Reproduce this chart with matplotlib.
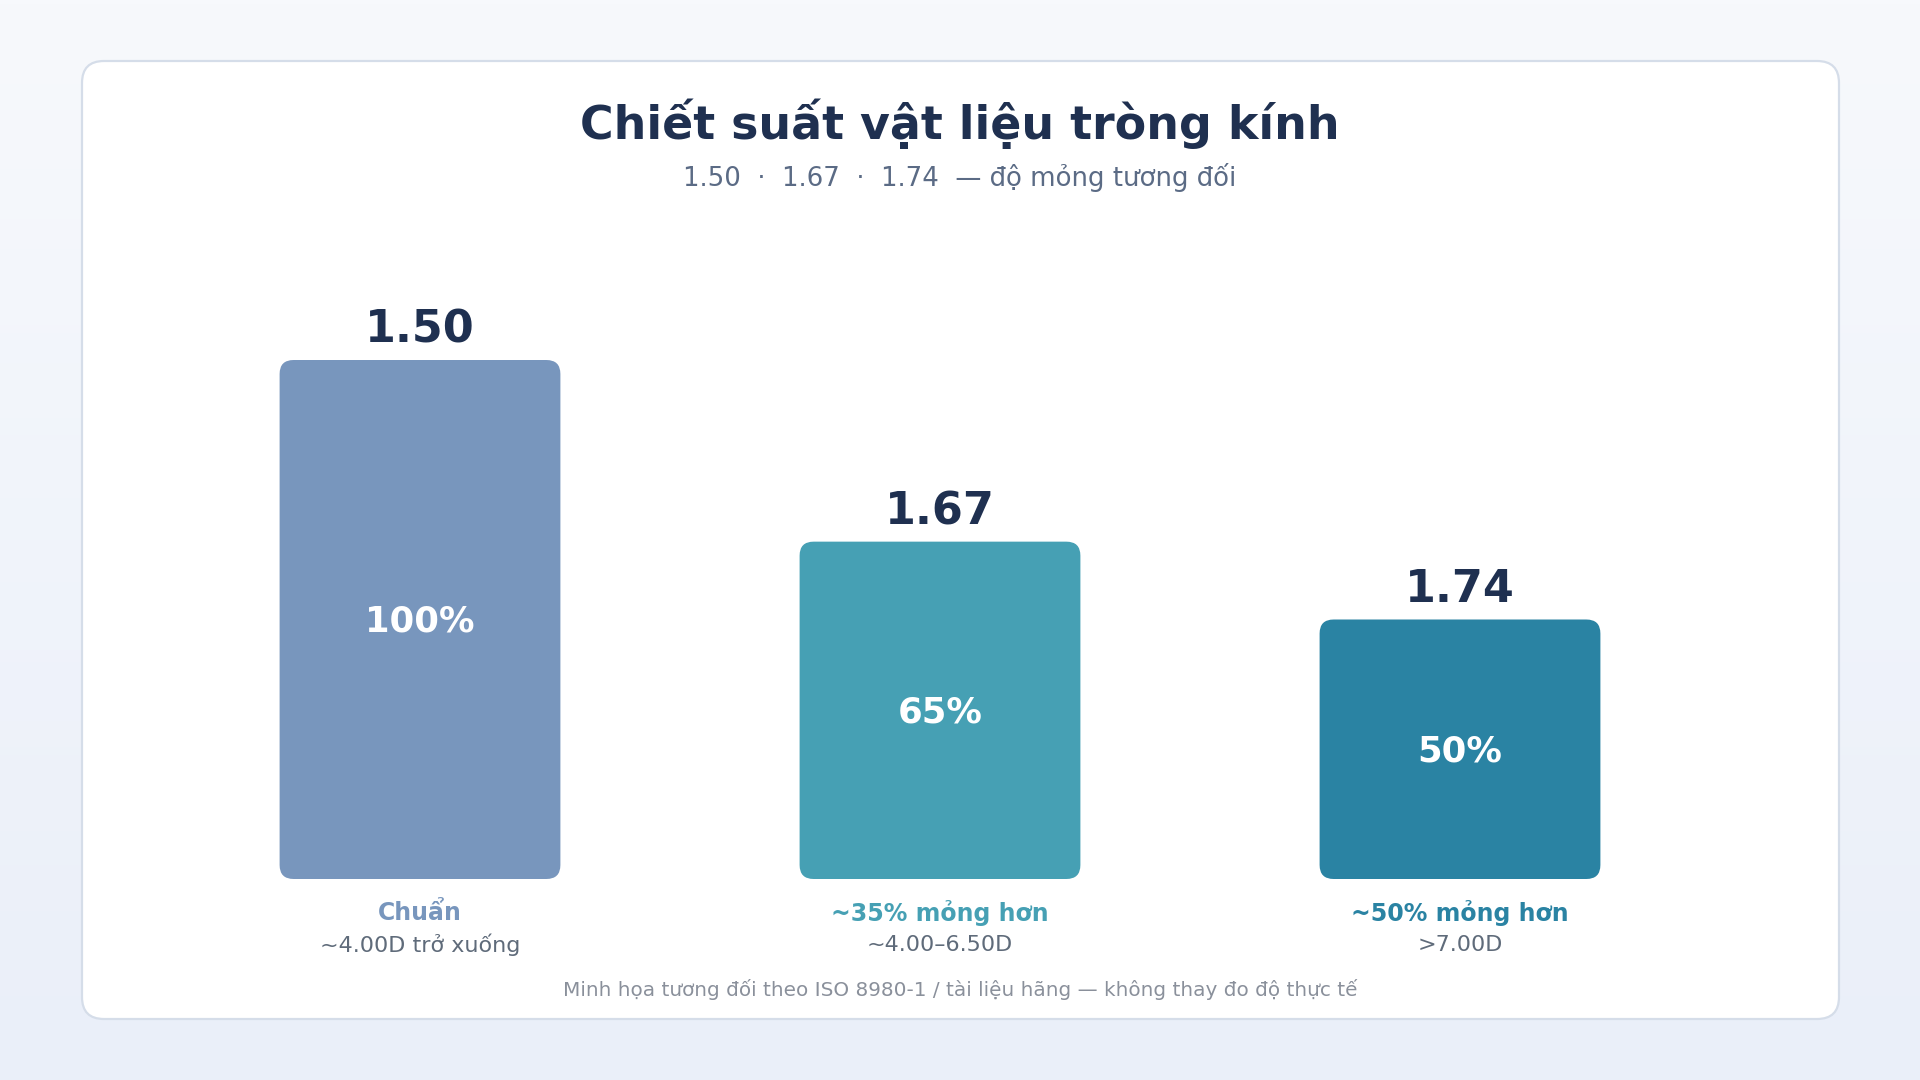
import numpy as np
import matplotlib.pyplot as plt
from matplotlib.patches import FancyBboxPatch

# data
indices = ["1.50", "1.67", "1.74"]
thickness = [100, 65, 50]
notes = ["Chuẩn", "~35% mỏng hơn", "~50% mỏng hơn"]
ranges = ["~4.00D trở xuống", "~4.00–6.50D", ">7.00D"]
colors = ["#7896bd", "#46a0b4", "#2a83a3"]

W, H = 1920, 1080
fig = plt.figure(figsize=(W / 100, H / 100), dpi=100)

# background + card (pixel coords)
bg = fig.add_axes([0, 0, 1, 1], zorder=0)
bg.set_xlim(0, W)
bg.set_ylim(0, H)
bg.axis("off")
grad = np.linspace(0, 1, 256).reshape(-1, 1)
c_top = np.array([0xf7, 0xf9, 0xfc]) / 255
c_bot = np.array([0xea, 0xef, 0xf9]) / 255
img = c_top + (c_bot - c_top) * grad[:, :, None]
bg.imshow(img, extent=[0, W, 0, H], aspect="auto", origin="upper", zorder=0)
card = FancyBboxPatch((82, 61), 1757, 958, boxstyle="round,pad=0,rounding_size=22",
                      facecolor="white", edgecolor="#d5dde9", linewidth=1.6, zorder=1)
bg.add_patch(card)

bg.text(W / 2, H - 124, "Chiết suất vật liệu tròng kính", ha="center", va="center",
        fontsize=33, fontweight="bold", color="#1f3050", zorder=2)
bg.text(W / 2, H - 177, "1.50  ·  1.67  ·  1.74  — độ mỏng tương đối", ha="center",
        va="center", fontsize=18.7, color="#5b6b85", zorder=2)
bg.text(W / 2, H - 989, "Minh họa tương đối theo ISO 8980-1 / tài liệu hãng — không thay đo độ thực tế",
        ha="center", va="center", fontsize=14.4, color="#8a909b", zorder=2)

# bars
ax = fig.add_axes([160 / W, 201 / H, 1560 / W, 519 / H], zorder=1)
ax.patch.set_alpha(0)
ax.set_xlim(-0.5, 2.5)
ax.set_ylim(0, 100)
ax.axis("off")

px_y = 100 / 519  # data units per pixel (y)
px_x = 1 / 520    # data units per pixel (x)
x = np.arange(len(indices))
bars = ax.bar(x, thickness, width=0.54, color=colors)
for b, c in zip(bars, colors):
    b.set_visible(False)
    rb = FancyBboxPatch((b.get_x(), b.get_y()), b.get_width(), b.get_height(),
                        boxstyle="round,pad=0,rounding_size=%f" % (14 * px_x),
                        mutation_aspect=px_y / px_x, facecolor=c, edgecolor="none")
    ax.add_patch(rb)

for i, (idx, v, n, r, c) in enumerate(zip(indices, thickness, notes, ranges, colors)):
    ax.text(i, v + 30 * px_y, idx, ha="center", va="center", fontsize=32,
            fontweight="bold", color="#1f3050", clip_on=False)
    ax.text(i, v / 2 - 2 * px_y, f"{v}%", ha="center", va="center", fontsize=25.5,
            fontweight="bold", color="white")
    ax.text(i, -34 * px_y, n, ha="center", va="center", fontsize=17,
            fontweight="bold", color=c, clip_on=False)
    ax.text(i, -66 * px_y, r, ha="center", va="center", fontsize=16,
            color="#5f6b7a", clip_on=False)

fig.savefig("out.png", dpi=100)
